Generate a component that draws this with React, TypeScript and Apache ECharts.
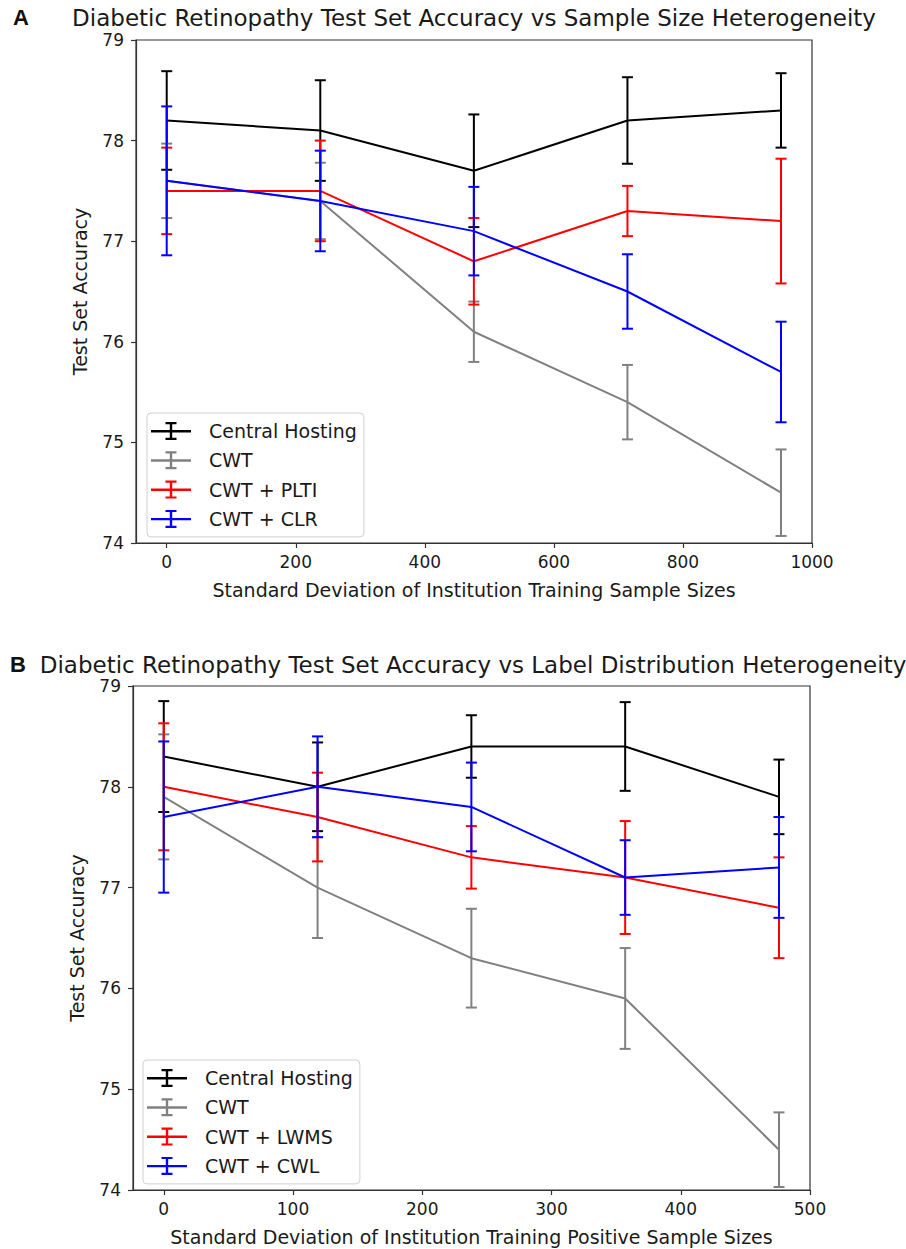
import React, { useEffect, useRef } from 'react';
import * as echarts from 'echarts';

// ---------- Panel A data ----------
const titleA = 'Diabetic Retinopathy Test Set Accuracy vs Sample Size Heterogeneity';
const xNameA = 'Standard Deviation of Institution Training Sample Sizes';
const xA = [0, 238, 476, 714, 952];
const xTicksA = [0, 200, 400, 600, 800, 1000];
const namesA = ['Central Hosting', 'CWT', 'CWT + PLTI', 'CWT + CLR'];
const centralA = [78.2, 78.1, 77.7, 78.2, 78.3];
const centralErrA = [0.49, 0.5, 0.56, 0.43, 0.37];
const cwtA = [77.6, 77.4, 76.1, 75.4, 74.5];
const cwtErrA = [0.37, 0.38, 0.3, 0.37, 0.43];
const pltiA = [77.5, 77.5, 76.8, 77.3, 77.2];
const pltiErrA = [0.43, 0.5, 0.43, 0.25, 0.62];
const clrA = [77.6, 77.4, 77.1, 76.5, 75.7];
const clrErrA = [0.74, 0.5, 0.44, 0.37, 0.5];

// ---------- Panel B data ----------
const titleB = 'Diabetic Retinopathy Test Set Accuracy vs Label Distribution Heterogeneity';
const xNameB = 'Standard Deviation of Institution Training Positive Sample Sizes';
const xB = [0, 119, 238, 357, 476];
const xTicksB = [0, 100, 200, 300, 400, 500];
const namesB = ['Central Hosting', 'CWT', 'CWT + LWMS', 'CWT + CWL'];
const centralB = [78.3, 78.0, 78.4, 78.4, 77.9];
const centralErrB = [0.55, 0.44, 0.31, 0.44, 0.37];
const cwtB = [77.9, 77.0, 76.3, 75.9, 74.4];
const cwtErrB = [0.62, 0.5, 0.49, 0.5, 0.37];
const lwmsB = [78.0, 77.7, 77.3, 77.1, 76.8];
const lwmsErrB = [0.63, 0.44, 0.31, 0.56, 0.5];
const cwlB = [77.7, 78.0, 77.8, 77.1, 77.2];
const cwlErrB = [0.75, 0.5, 0.44, 0.37, 0.5];

const yName = 'Test Set Accuracy';
const colors = ['#000000', '#808080', '#ff0000', '#0000ff'];

const FONT = '"DejaVu Sans", Verdana, sans-serif';
const TXT = '#1a1a1a';
const ICON = 'path://M0,8h40v2.4H0z M18.8,0h2.4v18h-2.4z M14.5,0h11v2.2h-11z M14.5,15.8h11v2.2h-11z M53,9';

function errData(xs: number[], vals: number[], errs: number[]) {
  return xs.map((x, i) => [x, vals[i] - errs[i], vals[i] + errs[i]]);
}

function makeSeries(
  names: string[],
  xs: number[],
  vals: number[][],
  errs: number[][],
  axisIdx: number
) {
  const out: any[] = [];
  names.forEach((name, k) => {
    const color = colors[k];
    out.push({
      type: 'line',
      name,
      xAxisIndex: axisIdx,
      yAxisIndex: axisIdx,
      data: xs.map((x, i) => [x, vals[k][i]]),
      symbol: 'none',
      color,
      lineStyle: { color, width: 2 },
      z: 2 + k,
    });
    out.push({
      type: 'custom',
      name,
      xAxisIndex: axisIdx,
      yAxisIndex: axisIdx,
      color,
      z: 2 + k,
      encode: { x: 0, y: [1, 2] },
      data: errData(xs, vals[k], errs[k]),
      renderItem: (params: any, api: any) => {
        const x = api.value(0);
        const lo = api.coord([x, api.value(1)]);
        const hi = api.coord([x, api.value(2)]);
        const hw = 5.5;
        const st = { stroke: color, lineWidth: 2, fill: 'none' };
        return {
          type: 'group',
          children: [
            { type: 'line', shape: { x1: hi[0], y1: hi[1], x2: lo[0], y2: lo[1] }, style: st },
            { type: 'line', shape: { x1: hi[0] - hw, y1: hi[1], x2: hi[0] + hw, y2: hi[1] }, style: st },
            { type: 'line', shape: { x1: lo[0] - hw, y1: lo[1], x2: lo[0] + hw, y2: lo[1] }, style: st },
          ],
        };
      },
    });
  });
  return out;
}

function xAxisOpt(idx: number, min: number, max: number, ticks: number[], name: string) {
  return {
    gridIndex: idx,
    type: 'value',
    min,
    max,
    name,
    nameLocation: 'middle',
    nameGap: 37,
    nameTextStyle: { fontSize: 19, fontFamily: FONT, color: TXT },
    axisLine: { show: true, onZero: false, lineStyle: { color: '#333', width: 1.2 } },
    axisTick: { show: true, length: 5, customValues: ticks, lineStyle: { color: '#333', width: 1.2 } },
    axisLabel: {
      customValues: ticks,
      formatter: (v: number) => String(v),
      fontSize: 17,
      fontFamily: FONT,
      color: TXT,
      margin: 10,
      showMaxLabel: true,
    },
    splitLine: { show: false },
  };
}

function yAxisOpt(idx: number) {
  return {
    gridIndex: idx,
    type: 'value',
    min: 74,
    max: 79,
    interval: 1,
    name: yName,
    nameLocation: 'middle',
    nameGap: 47,
    nameTextStyle: { fontSize: 19, fontFamily: FONT, color: TXT },
    axisLine: { show: true, onZero: false, lineStyle: { color: '#333', width: 1.2 } },
    axisTick: { show: true, length: 5, lineStyle: { color: '#333', width: 1.2 } },
    axisLabel: { fontSize: 17, fontFamily: FONT, color: TXT, margin: 12 },
    splitLine: { show: false },
  };
}

function legendOpt(names: string[], left: number, top: number) {
  return {
    orient: 'vertical',
    left,
    top,
    data: names.map((n) => ({ name: n, icon: ICON })),
    itemWidth: 53,
    itemHeight: 18,
    itemGap: 10.3,
    padding: [8.5, 7, 8.5, 4],
    backgroundColor: 'rgba(255,255,255,0.85)',
    borderColor: '#d0d0d0',
    borderWidth: 1,
    borderRadius: 4,
    selectedMode: false,
    itemStyle: { borderWidth: 0 },
    textStyle: { fontSize: 19, fontFamily: FONT, color: TXT },
    z: 20,
  };
}

export default function App() {
  const ref = useRef<HTMLDivElement>(null);
  useEffect(() => {
    if (!ref.current) return;
    const chart = echarts.init(ref.current, null, { renderer: 'svg' });
    const option: any = {
      animation: false,
      backgroundColor: '#ffffff',
      grid: [
        { left: 136, top: 40, width: 676, height: 503, show: true, borderColor: '#333', borderWidth: 1.2, backgroundColor: 'transparent' },
        { left: 133, top: 686, width: 677, height: 504, show: true, borderColor: '#333', borderWidth: 1.2, backgroundColor: 'transparent' },
      ],
      xAxis: [
        xAxisOpt(0, -47.6, 1000, xTicksA, xNameA),
        xAxisOpt(1, -23.8, 500, xTicksB, xNameB),
      ],
      yAxis: [yAxisOpt(0), yAxisOpt(1)],
      legend: [legendOpt(namesA, 147, 413), legendOpt(namesB, 143, 1060)],
      graphic: [
        { type: 'text', x: 13, y: 6, style: { text: 'A', fontSize: 22, fontWeight: 'bold', fontFamily: '"Liberation Sans", Arial, sans-serif', fill: '#111' } },
        { type: 'text', x: 474, y: 18, style: { text: titleA, align: 'center', verticalAlign: 'middle', fontSize: 23, fontFamily: FONT, fill: TXT } },
        { type: 'text', x: 10, y: 653, style: { text: 'B', fontSize: 22, fontWeight: 'bold', fontFamily: '"Liberation Sans", Arial, sans-serif', fill: '#111' } },
        { type: 'text', x: 473, y: 665, style: { text: titleB, align: 'center', verticalAlign: 'middle', fontSize: 23, fontFamily: FONT, fill: TXT } },
      ],
      series: [
        ...makeSeries(namesA, xA, [centralA, cwtA, pltiA, clrA], [centralErrA, cwtErrA, pltiErrA, clrErrA], 0),
        ...makeSeries(namesB, xB, [centralB, cwtB, lwmsB, cwlB], [centralErrB, cwtErrB, lwmsErrB, cwlErrB], 1),
      ],
    };
    chart.setOption(option);
    return () => chart.dispose();
  }, []);
  return <div ref={ref} style={{ position: 'absolute', left: 0, top: 0, width: 906, height: 1249 }} />;
}
